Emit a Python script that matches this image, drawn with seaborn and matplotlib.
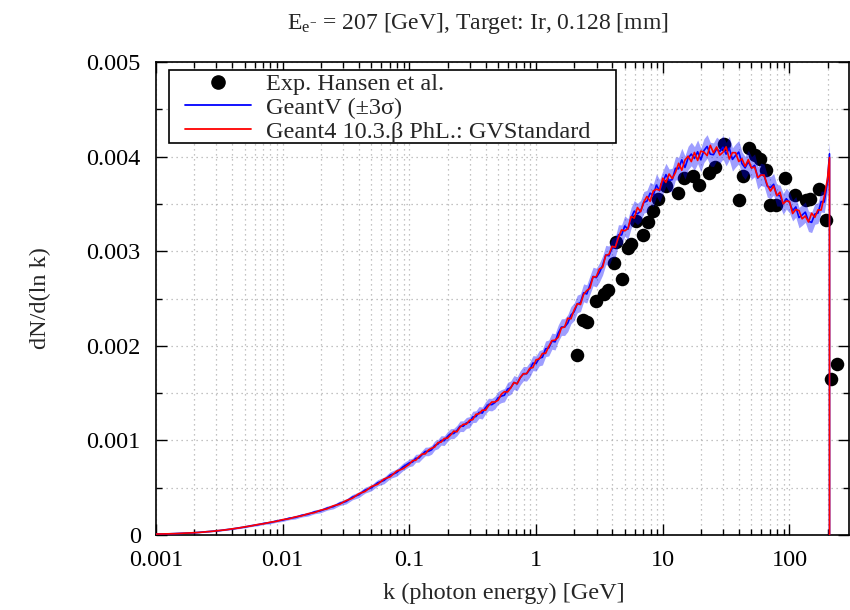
import numpy as np
import pandas as pd
import matplotlib
matplotlib.use("Agg")
import matplotlib.pyplot as plt
from matplotlib.lines import Line2D
from matplotlib.patches import Rectangle
from matplotlib.ticker import FixedLocator, FixedFormatter, NullFormatter, LogLocator
import seaborn as sns

# ---------------- data ----------------
UNIT = 1e-5  # curve values below are in units of 1e-5

# log10 of photon energy k [GeV] for the simulated histograms
LOG10_K_LOW = [-3.00, -2.95, -2.90, -2.85, -2.80, -2.75, -2.70, -2.65, -2.60, -2.55,
               -2.50, -2.45, -2.40, -2.35, -2.30, -2.25, -2.20, -2.15, -2.10, -2.05,
               -2.00, -1.95, -1.90, -1.85, -1.80, -1.75, -1.70, -1.65, -1.60, -1.55,
               -1.50, -1.45, -1.40, -1.35, -1.30, -1.25, -1.20, -1.15, -1.10, -1.05]
LOG10_K_HIGH = [-1.000, -0.975, -0.950, -0.925, -0.900, -0.875, -0.850, -0.825, -0.800, -0.775,
                -0.750, -0.725, -0.700, -0.675, -0.650, -0.625, -0.600, -0.575, -0.550, -0.525,
                -0.500, -0.475, -0.450, -0.425, -0.400, -0.375, -0.350, -0.325, -0.300, -0.275,
                -0.250, -0.225, -0.200, -0.175, -0.150, -0.125, -0.100, -0.075, -0.050, -0.025,
                0.000, 0.025, 0.050, 0.075, 0.100, 0.125, 0.150, 0.175, 0.200, 0.225,
                0.250, 0.275, 0.300, 0.325, 0.350, 0.375, 0.400, 0.425, 0.450, 0.475,
                0.500, 0.525, 0.550, 0.575, 0.600, 0.625, 0.650, 0.675, 0.700, 0.725,
                0.750, 0.775, 0.800, 0.825, 0.850, 0.875, 0.900, 0.925, 0.950, 0.975,
                1.000, 1.025, 1.050, 1.075, 1.100, 1.125, 1.150, 1.175, 1.200, 1.225,
                1.250, 1.275, 1.300, 1.325, 1.350, 1.375, 1.400, 1.425, 1.450, 1.475,
                1.500, 1.525, 1.550, 1.575, 1.600, 1.625, 1.650, 1.675, 1.700, 1.725,
                1.750, 1.775, 1.800, 1.825, 1.850, 1.875, 1.900, 1.925, 1.950, 1.975,
                2.000, 2.025, 2.050, 2.075, 2.100, 2.125, 2.150, 2.175, 2.200, 2.225,
                2.250, 2.275, 2.300, 2.316, 2.3161]

GEANTV_LOW = [1.0, 1.12, 1.22, 1.48, 1.68, 2.04, 2.37, 2.9, 3.36, 4.06,
              4.65, 5.6, 6.33, 7.5, 8.4, 9.85, 10.75, 12.3, 13.1, 14.8,
              15.8, 17.7, 18.6, 20.8, 21.9, 24.4, 25.6, 28.4, 30.0, 33.5,
              35.4, 40.0, 42.5, 47.4, 49.9, 55.2, 57.7, 63.4, 66.0, 72.0]
GEANTV_HIGH = [76.3, 77.2, 81.1, 81.3, 84.9, 88.3, 88.4, 90.1, 94.7, 96.1,
               100.0, 99.7, 104.0, 107.1, 107.3, 110.4, 115.0, 115.0, 118.5, 119.2,
               124.8, 125.2, 129.6, 128.9, 134.4, 138.1, 137.8, 140.0, 145.0, 146.8,
               147.8, 154.2, 155.7, 161.2, 159.9, 166.2, 170.6, 170.4, 174.8, 181.7,
               181.3, 186.9, 187.9, 196.8, 197.7, 204.9, 204.2, 213.4, 219.8, 219.8,
               224.0, 232.4, 235.9, 244.2, 245.6, 256.0, 254.8, 264.2, 273.3, 272.1,
               277.5, 284.9, 296.0, 295.1, 303.4, 304.2, 317.4, 317.1, 326.7, 323.3,
               335.3, 342.4, 339.4, 342.4, 351.6, 352.9, 361.3, 359.1, 369.9, 363.8,
               372.7, 380.9, 374.8, 375.7, 387.6, 387.1, 396.6, 388.5, 398.5, 402.7,
               398.0, 405.1, 396.6, 406.4, 410.7, 402.6, 402.0, 408.1, 405.3, 409.9,
               402.6, 409.0, 397.0, 401.3, 404.8, 392.6, 388.1, 394.5, 388.0, 390.8,
               377.4, 381.3, 380.1, 368.7, 367.3, 370.7, 359.1, 358.8, 350.0, 355.5,
               351.5, 342.9, 346.8, 335.5, 338.2, 341.3, 331.6, 330.5, 339.2, 340.3,
               352.5, 352.0, 373.9, 403.0, 0.0]

GEANT4_LOW = [1.0, 1.08, 1.27, 1.42, 1.73, 1.97, 2.43, 2.8, 3.45, 3.95,
              4.77, 5.4, 6.5, 7.3, 8.62, 9.55, 11.05, 11.9, 13.5, 14.4,
              16.25, 17.1, 19.2, 20.2, 22.55, 23.6, 26.3, 27.6, 30.9, 32.5,
              36.4, 38.8, 43.6, 46.0, 51.2, 53.6, 59.2, 61.6, 67.6, 70.0]
GEANT4_HIGH = [74.9, 78.6, 79.0, 82.7, 85.5, 85.7, 89.8, 91.7, 93.0, 97.7,
               98.1, 102.0, 102.3, 105.6, 109.8, 109.1, 114.0, 117.0, 117.2, 121.3,
               121.9, 127.6, 128.1, 132.0, 131.9, 136.6, 140.6, 140.6, 142.4, 148.7,
               151.5, 151.2, 155.5, 161.2, 159.8, 166.4, 170.4, 170.6, 176.2, 177.0,
               185.2, 186.1, 191.9, 192.0, 199.3, 205.5, 206.0, 209.1, 219.0, 219.8,
               229.2, 228.5, 237.8, 244.5, 243.6, 254.3, 258.4, 260.8, 273.0, 273.0,
               281.4, 282.9, 295.7, 296.6, 305.2, 304.2, 314.5, 322.5, 321.5, 324.0,
               336.6, 335.0, 346.2, 341.7, 352.0, 357.9, 352.7, 363.8, 365.5, 364.5,
               377.2, 372.7, 381.6, 376.8, 383.3, 392.9, 385.6, 396.4, 400.5, 394.7,
               404.4, 395.9, 405.8, 404.8, 401.0, 411.9, 404.1, 410.2, 401.6, 404.6,
               410.3, 397.4, 404.2, 404.1, 394.8, 397.8, 389.7, 396.9, 388.0, 388.9,
               377.8, 380.5, 380.5, 369.8, 363.6, 368.9, 358.7, 362.4, 350.0, 353.1,
               352.5, 339.8, 344.1, 343.0, 334.2, 337.2, 330.9, 340.2, 335.8, 343.7,
               343.5, 358.1, 376.5, 399.0, 0.0]

SIGMA3_LOW = [0.3, 0.3, 0.3, 0.35, 0.4, 0.4, 0.45, 0.5, 0.55, 0.6,
              0.65, 0.7, 0.8, 0.85, 0.9, 1.0, 1.1, 1.2, 1.3, 1.4,
              1.5, 1.6, 1.7, 1.8, 1.9, 2.0, 2.1, 2.2, 2.3, 2.4,
              2.6, 2.8, 3.0, 3.1, 3.2, 3.3, 3.5, 3.6, 3.8, 3.9]
SIGMA3_HIGH = [4.0, 4.1, 4.2, 4.3, 4.4, 4.5, 4.6, 4.7, 4.8, 4.9,
               5.0, 5.1, 5.2, 5.3, 5.4, 5.5, 5.6, 5.7, 5.8, 5.9,
               6.0, 6.1, 6.2, 6.3, 6.4, 6.5, 6.6, 6.7, 6.8, 6.9,
               7.0, 7.1, 7.2, 7.3, 7.4, 7.5, 7.6, 7.7, 7.8, 7.9,
               8.0, 8.1, 8.2, 8.3, 8.4, 8.5, 8.6, 8.7, 8.8, 8.9,
               9.0, 9.1, 9.2, 9.3, 9.4, 9.5, 9.6, 9.7, 9.8, 9.9,
               10.0, 10.1, 10.2, 10.3, 10.4, 10.5, 10.6, 10.7, 10.8, 10.9,
               11.0, 11.1, 11.2, 11.3, 11.4, 11.5, 11.6, 11.7, 11.8, 11.9,
               12.0, 12.0, 12.1, 12.1, 12.2, 12.2, 12.3, 12.3, 12.4, 12.4,
               12.5, 12.5, 12.5, 12.5, 12.5, 12.5, 12.5, 12.5, 12.5, 12.5,
               12.4, 12.4, 12.3, 12.3, 12.2, 12.2, 12.1, 12.1, 12.0, 12.0,
               11.9, 11.8, 11.7, 11.6, 11.5, 11.4, 11.3, 11.2, 11.1, 11.0,
               11.0, 10.9, 10.9, 10.8, 10.8, 10.8, 10.8, 10.8, 10.8, 10.9,
               11.0, 11.2, 11.6, 12.0, 0.0]

EXP_K = [2.09, 2.33, 2.53, 2.98, 3.42, 3.70, 4.09, 4.30, 4.76, 5.30,
         5.63, 6.15, 7.0, 7.6, 8.3, 9.1, 10.6, 13.2, 14.8, 17.3,
         19.2, 23.0, 26.0, 30.4, 40.0, 43.0, 48.0, 53.6, 58.8, 65.4,
         70.8, 78.0, 91.8, 111.0, 134.0, 146.0, 170.0, 195.0, 213.0, 236.0]
EXP_V = [0.00190, 0.00227, 0.00225, 0.00247, 0.00255, 0.00259, 0.00287, 0.00310, 0.00271, 0.00303,
         0.00308, 0.00332, 0.00317, 0.00331, 0.00342, 0.00355, 0.00369, 0.00361, 0.00377, 0.00380,
         0.00370, 0.00383, 0.00389, 0.00413, 0.00354, 0.00379, 0.00409, 0.00402, 0.00397, 0.00386,
         0.00349, 0.00349, 0.00377, 0.00359, 0.00354, 0.00355, 0.00366, 0.00333, 0.00165, 0.00181]

LABELS = ["Exp. Hansen et al.", "GeantV (\u00b13\u03c3)", "Geant4 10.3.\u03b2 PhL.: GVStandard"]
X_TICKS = [0.001, 0.01, 0.1, 1, 10, 100]
X_TICK_LABELS = ["0.001", "0.01", "0.1", "1", "10", "100"]
Y_TICKS = [0, 0.001, 0.002, 0.003, 0.004, 0.005]
Y_TICK_LABELS = ["0", "0.001", "0.002", "0.003", "0.004", "0.005"]
TITLE = r"E$_{\mathrm{e}^{\mathrm{-}}}$ = 207 [GeV], Target: Ir, 0.128 [mm]"
XLABEL = "k (photon energy) [GeV]"
YLABEL = "dN/d(ln k)"

# ---------------- build frames ----------------
k = 10.0 ** np.array(LOG10_K_LOW + LOG10_K_HIGH)
gv = np.array(GEANTV_LOW + GEANTV_HIGH) * UNIT
g4 = np.array(GEANT4_LOW + GEANT4_HIGH) * UNIT
sg = np.array(SIGMA3_LOW + SIGMA3_HIGH) * UNIT
df = pd.DataFrame({
    "k": np.concatenate([k, k]),
    "v": np.concatenate([gv, g4]),
    "series": [LABELS[1]] * len(k) + [LABELS[2]] * len(k),
})
exp_df = pd.DataFrame({"k": EXP_K, "v": EXP_V})

# ---------------- style ----------------
sns.set_theme(style="ticks")
plt.rcParams["font.family"] = ["Liberation Serif", "DejaVu Serif"]
plt.rcParams["mathtext.fontset"] = "custom"
plt.rcParams["mathtext.rm"] = "Liberation Serif"
plt.rcParams["mathtext.it"] = "Liberation Serif:italic"
FS = 17.5

fig = plt.figure(figsize=(8.5, 6.1), dpi=100)
ax = fig.add_axes([156 / 850, 75 / 610, 693 / 850, 473 / 610])

sns.scatterplot(data=exp_df, x="k", y="v", color="black", s=95, linewidth=0,
                ax=ax, zorder=2, legend=False)
ax.fill_between(k, gv - sg, gv + sg, color="#0000ff", alpha=0.38, linewidth=0, zorder=3)
sns.lineplot(data=df, x="k", y="v", hue="series",
             palette={LABELS[1]: "#0000ff", LABELS[2]: "#ff0000"},
             estimator=None, sort=False, linewidth=1.2, ax=ax, legend=False, zorder=4)

ax.set_xscale("log")
ax.set_xlim(1e-3, 295)
ax.set_ylim(0, 0.005)

ax.xaxis.set_major_locator(FixedLocator(X_TICKS))
ax.xaxis.set_major_formatter(FixedFormatter(X_TICK_LABELS))
ax.xaxis.set_minor_locator(LogLocator(base=10, subs=np.arange(2, 10)))
ax.xaxis.set_minor_formatter(NullFormatter())
ax.yaxis.set_major_locator(FixedLocator(Y_TICKS))
ax.yaxis.set_major_formatter(FixedFormatter(Y_TICK_LABELS))
ax.yaxis.set_minor_locator(FixedLocator([0.0005, 0.0015, 0.0025, 0.0035, 0.0045]))

ax.tick_params(which="both", direction="in", top=True, right=True, colors="black",
               labelsize=FS, width=1.0)
ax.tick_params(which="major", length=8)
ax.tick_params(which="minor", length=4)
ax.tick_params(axis="y", pad=11)
ax.tick_params(axis="x", pad=11)

ax.grid(which="both", color="#b0b0b0", linestyle=(0, (1, 3)), linewidth=0.9, zorder=0)
ax.set_axisbelow(True)
for sp in ax.spines.values():
    sp.set_color("black")
    sp.set_linewidth(1.2)
ax.set_xlabel("")
ax.set_ylabel("")

fig.text(478 / 850, 1 - 23 / 610, TITLE, ha="center", va="center", fontsize=17)
fig.text(504 / 850, 1 - 593 / 610, XLABEL, ha="center", va="center", fontsize=FS)
fig.text(40 / 850, 1 - 298 / 610, YLABEL, ha="center", va="center", fontsize=FS, rotation=90)

# legend: frame drawn as a separate square box, entries placed inside it
ax.add_patch(Rectangle((169 / 850, 1 - 143 / 610), (616 - 169) / 850, (143 - 70) / 610,
                       transform=fig.transFigure, facecolor="white", edgecolor="black",
                       linewidth=1.2, zorder=9, clip_on=False))
handles = [
    Line2D([], [], marker="o", color="black", linestyle="none", markersize=9.5),
    Line2D([], [], color="#0000ff", linewidth=1.3),
    Line2D([], [], color="#ff0000", linewidth=1.3),
]
leg = ax.legend(handles, LABELS, loc="upper left", frameon=False, fontsize=FS,
                bbox_to_anchor=(185 / 850, 1 - 73 / 610), bbox_transform=fig.transFigure,
                borderpad=0, borderaxespad=0, handlelength=2.7, handletextpad=0.65,
                labelspacing=0.08)
leg.set_zorder(10)

fig.savefig("out.png", dpi=100)
